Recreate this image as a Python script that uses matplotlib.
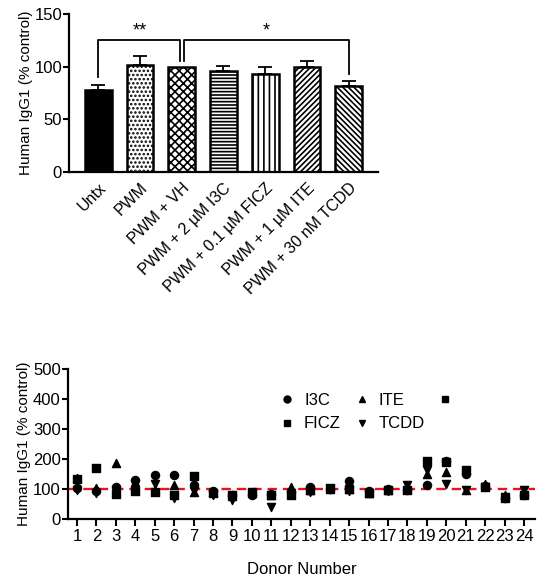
import numpy as np
import matplotlib
matplotlib.use('Agg')
import matplotlib.pyplot as plt
from matplotlib.lines import Line2D

plt.rcParams['font.family'] = ['Liberation Sans', 'DejaVu Sans']
plt.rcParams['hatch.linewidth'] = 1.2

# top panel: bar means and upper error
groups = ["Untx", "PWM", "PWM + VH", "PWM + 2 \u00b5M I3C", "PWM + 0.1 \u00b5M FICZ",
          "PWM + 1 \u00b5M ITE", "PWM + 30 nM TCDD"]
means = [78, 102, 100, 96, 93, 99.5, 82]
errs = [5, 8, 0, 5, 6.5, 6, 4.5]
hatches = [None, '....', 'xxxx', '-----', '|||', '//////', '\\\\\\\\\\\\']

# bottom panel: per donor values (% control)
donors = list(range(1, 25))
i3c = [104, 92, 108, 130, 145, 145, 113, 92, 78, 80, 82, 88,
       105, 100, 128, 92, 100, 95, 112, 193, 150, 110, 70, 80]
ficz = [132, 171, 82, 94, 91, 80, 143, 85, 80, 88, 78, 78,
        98, 103, 100, 85, 98, 95, 192, 190, 162, 108, 68, 78]
ite = [138, 102, 185, 122, 95, 113, 88, 88, 75, 85, 80, 105,
       95, 100, 100, 85, 95, 100, 150, 156, 98, 118, 78, 85]
tcdd = [95, 85, 97, 118, 118, 68, 92, 78, 62, 85, 40, 85,
        88, 100, 92, 85, 92, 112, 163, 117, 98, 105, 72, 95]

fig = plt.figure(figsize=(5.5, 5.83), dpi=100)

# ---- top bar chart ----
ax1 = fig.add_axes([0.1255, 0.705, 0.5615, 0.271])
x = np.arange(len(groups))
for i in range(len(groups)):
    fc = 'black' if i == 0 else 'white'
    ax1.bar(x[i], means[i], width=0.64, color=fc, edgecolor='black',
            linewidth=1.8, hatch=hatches[i], zorder=2)
    if errs[i] > 0:
        ax1.errorbar(x[i], means[i], yerr=[[0], [errs[i]]], fmt='none',
                     ecolor='black', elinewidth=1.3, capsize=5, capthick=1.3, zorder=1)

# significance brackets
ax1.plot([0, 0, 1.95, 1.95], [90, 125, 125, 105], color='black', lw=1.3, clip_on=False)
ax1.plot([2.05, 2.05, 6, 6], [105, 125, 125, 93], color='black', lw=1.3, clip_on=False)
ax1.text(1.0, 126, '**', ha='center', va='bottom', fontsize=13)
ax1.text(4.02, 126, '*', ha='center', va='bottom', fontsize=13)

ax1.set_xlim(-0.7, 6.7)
ax1.set_ylim(0, 150)
ax1.set_yticks([0, 50, 100, 150])
ax1.set_xticks(x)
ax1.set_xticklabels(groups, rotation=45, ha='right', rotation_mode='anchor')
ax1.tick_params(axis='x', length=0, pad=6, labelsize=11.5)
ax1.tick_params(axis='y', width=1.5, length=4, labelsize=12, pad=1)
ax1.set_ylabel('Human IgG1 (% control)', fontsize=11, labelpad=1)
for s in ['top', 'right']:
    ax1.spines[s].set_visible(False)
for s in ['left', 'bottom']:
    ax1.spines[s].set_linewidth(1.6)

# ---- bottom scatter ----
ax2 = fig.add_axes([0.123, 0.110, 0.850, 0.257])
ms = 34
ax2.scatter(donors, ficz, marker='s', s=ms, color='black', zorder=3)
ax2.scatter(donors, ite, marker='^', s=ms, color='black', zorder=3)
ax2.scatter(donors, tcdd, marker='v', s=ms, color='black', zorder=3)
ax2.scatter(donors, i3c, marker='o', s=ms, color='black', zorder=4)
ax2.axhline(100, color='#e8141b', linestyle=(0, (4, 2.5)), lw=1.7, zorder=2)

handles = [
    Line2D([], [], marker='o', color='black', ls='none', markersize=5),
    Line2D([], [], marker='s', color='black', ls='none', markersize=5),
    Line2D([], [], marker='^', color='black', ls='none', markersize=5),
    Line2D([], [], marker='v', color='black', ls='none', markersize=5),
    Line2D([], [], marker='s', color='black', ls='none', markersize=5),
]
ax2.legend(handles, ['I3C', 'FICZ', 'ITE', 'TCDD', ''], ncol=3, frameon=False,
           loc='upper left', bbox_to_anchor=(0.42, 0.94), fontsize=12,
           handletextpad=0.5, columnspacing=0.75, labelspacing=0.5, handlelength=1.0)

ax2.set_xlim(0.52, 24.57)
ax2.set_ylim(0, 500)
ax2.set_xticks(donors)
ax2.set_yticks([0, 100, 200, 300, 400, 500])
ax2.tick_params(axis='x', width=1.5, length=5, labelsize=12, pad=2)
ax2.tick_params(axis='y', width=1.5, length=4, labelsize=12, pad=1)
ax2.set_xlabel('Donor Number', fontsize=12, labelpad=13)
ax2.set_ylabel('Human IgG1 (% control)', fontsize=11, labelpad=1)
for s in ['top', 'right']:
    ax2.spines[s].set_visible(False)
for s in ['left', 'bottom']:
    ax2.spines[s].set_linewidth(1.6)

fig.savefig('out.png', dpi=100)
